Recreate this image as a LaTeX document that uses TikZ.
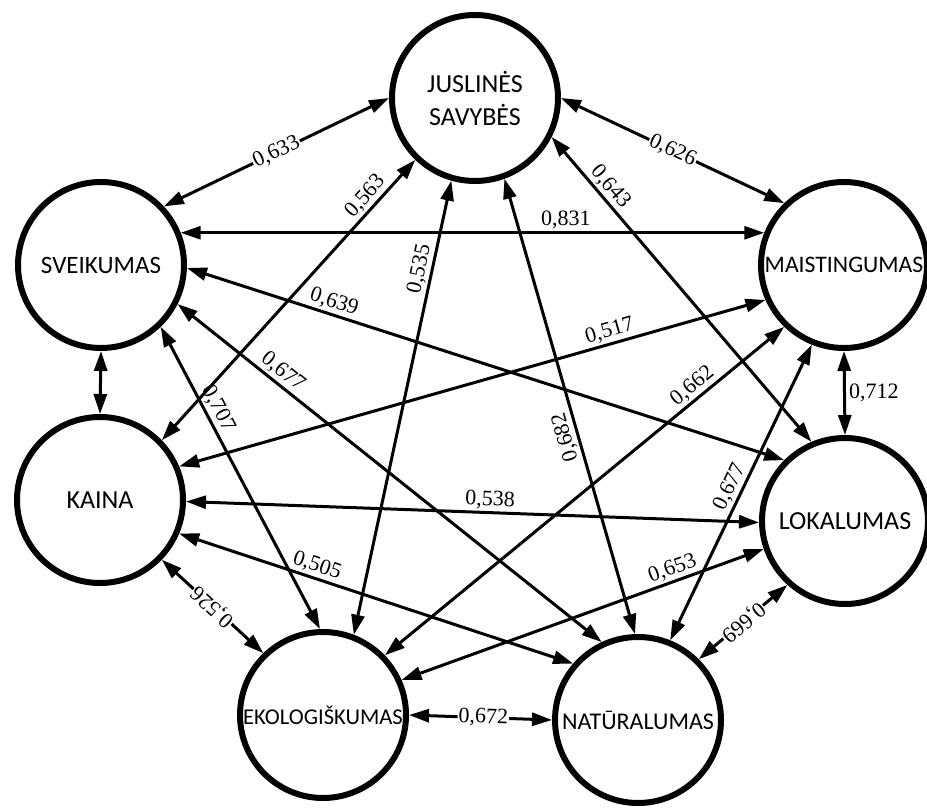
\documentclass[tikz,border=0pt]{standalone}
\usepackage{fontspec}
\setmainfont{Liberation Serif}
\newfontfamily\factorfont{Carlito}
\usetikzlibrary{arrows.meta}

\begin{document}
\begin{tikzpicture}[x=1pt,y=1pt,
  factor/.style={circle, draw, line width=6pt, minimum size=166pt, inner sep=0pt,
    align=center, font=\factorfont\fontsize{26}{33}\selectfont},
  link/.style={line width=3pt,
    {Triangle[length=20pt,width=13pt]}-{Triangle[length=20pt,width=13pt]}},
  wt/.style={font=\fontsize{22}{24}\selectfont, sloped, allow upside down, above, inner sep=2pt},
  wtin/.style={font=\fontsize{22}{24}\selectfont, sloped, allow upside down, fill=white, inner sep=1pt}
]
\useasboundingbox (0,0) rectangle (927,807);

% factors
\node[factor] (J) at (475,709) {JUSLINĖS\\SAVYBĖS};
\node[factor, font=\factorfont\fontsize{25}{30}\selectfont] (S) at (101,542) {SVEIKUMAS};
\node[factor, font=\factorfont\fontsize{23.7}{28}\selectfont] (M) at (844,542) {MAISTINGUMAS};
\node[factor] (K) at (100,307) {KAINA};
\node[factor] (L) at (845,286) {LOKALUMAS};
\node[factor, font=\factorfont\fontsize{22.6}{27}\selectfont] (E) at (323,92) {EKOLOGIŠKUMAS};
\node[factor, font=\factorfont\fontsize{24}{28}\selectfont] (N) at (638,87) {NATŪRALUMAS};

% outer ring
\draw[link] (S.43) -- node[wtin, pos=0.5] {0,633} (J.180);
\draw[link] (J.0) -- node[wtin, pos=0.5] {0,626} (M.134);
\draw[link] (S.270) -- (K.90);
\draw[link] (M.270) -- node[right, pos=0.5, font=\fontsize{22}{24}\selectfont, inner sep=3pt] {0,712} (L.90);
\draw[link] (E.134) -- node[wtin, pos=0.5] {0,526} (K.-44);
\draw[link] (L.228) -- node[wtin, pos=0.5] {0,669} (N.45);
\draw[link] (E.0) -- node[wtin, pos=0.52] {0,672} (N.180);

% chords
\draw[link] (S.22) -- node[wt, pos=0.66] {0,831} (M.158);
\draw[link] (K.44) -- node[wt, pos=0.84] {0,563} (J.226);
\draw[link] (E.69) -- node[wt, pos=0.8] {0,535} (J.254);
\draw[link] (N.92) -- node[wt, pos=0.44] {0,682} (J.290);
\draw[link] (J.-27) -- node[wt, pos=0.19] {0,643} (L.113);
\draw[link] (S.-2) -- node[wt, pos=0.24] {0,639} (L.135);
\draw[link] (S.-27) -- node[wt, pos=0.23] {0,677} (N.115);
\draw[link] (S.-46) -- node[wt, pos=0.29] {0,707} (E.92);
\draw[link] (K.23) -- node[wt, pos=0.74] {0,517} (M.204);
\draw[link] (K.-1) -- node[wt, pos=0.53] {0,538} (L.181);
\draw[link] (K.-23) -- node[wt, pos=0.34] {0,505} (N.139);
\draw[link] (E.44) -- node[wt, pos=0.79] {0,662} (M.226);
\draw[link] (E.24) -- node[wt, pos=0.76] {0,653} (L.199);
\draw[link] (N.68) -- node[wt, pos=0.5] {0,677} (M.248);
\end{tikzpicture}
\end{document}
